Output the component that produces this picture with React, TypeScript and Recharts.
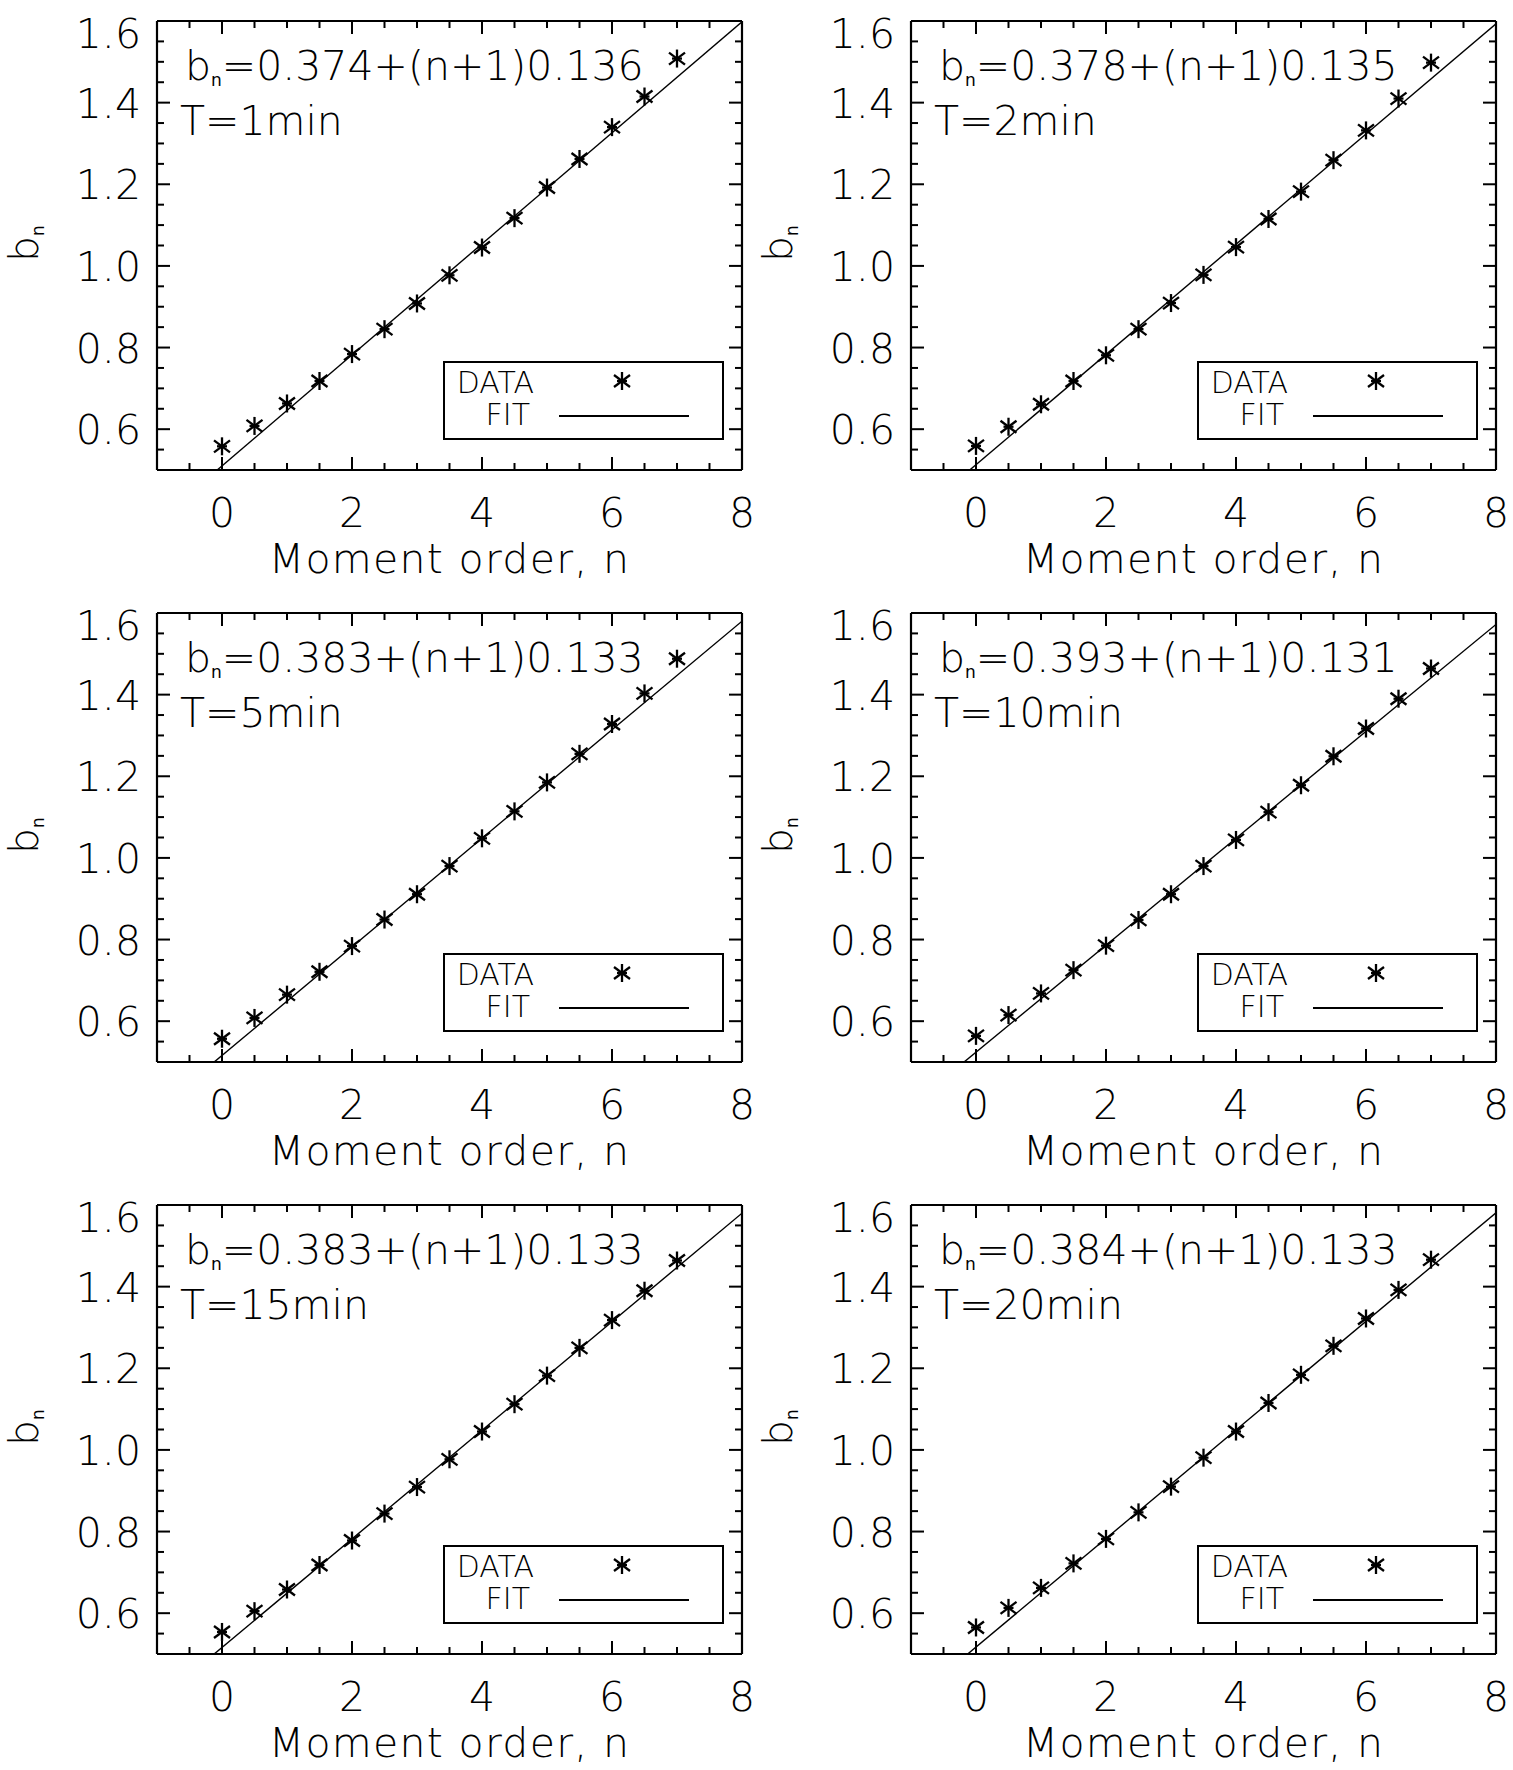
import React from "react"
import { ComposedChart, Scatter, Line, XAxis, YAxis } from "recharts"

// moment orders n at which b_n was measured
const momentOrders = [0, 0.5, 1, 1.5, 2, 2.5, 3, 3.5, 4, 4.5, 5, 5.5, 6, 6.5, 7]

const panelTitles = ["T=1min", "T=2min", "T=5min", "T=10min", "T=15min", "T=20min"]

// fitted b_n = a + (n+1) c, as printed in each panel
const fitIntercepts = [0.374, 0.378, 0.383, 0.393, 0.383, 0.384]
const fitSlopes = [0.136, 0.135, 0.133, 0.131, 0.133, 0.133]

// fit line ends at n = -1 and n = 8
const fitRange = [-1, 8]
const fitStartValues = [0.374, 0.378, 0.383, 0.393, 0.383, 0.384]
const fitEndValues = [1.598, 1.593, 1.58, 1.572, 1.58, 1.581]

const bn1min = [0.558, 0.608, 0.663, 0.718, 0.784, 0.845, 0.908, 0.977, 1.045, 1.117, 1.192, 1.262, 1.34, 1.415, 1.508]
const bn2min = [0.559, 0.606, 0.661, 0.718, 0.781, 0.845, 0.909, 0.978, 1.046, 1.115, 1.182, 1.259, 1.332, 1.41, 1.498]
const bn5min = [0.557, 0.608, 0.665, 0.721, 0.784, 0.849, 0.911, 0.98, 1.048, 1.114, 1.185, 1.255, 1.328, 1.403, 1.488]
const bn10min = [0.564, 0.615, 0.668, 0.725, 0.785, 0.848, 0.911, 0.98, 1.044, 1.112, 1.178, 1.249, 1.317, 1.39, 1.464]
const bn15min = [0.554, 0.605, 0.658, 0.718, 0.778, 0.844, 0.909, 0.977, 1.045, 1.112, 1.182, 1.25, 1.318, 1.39, 1.464]
const bn20min = [0.565, 0.613, 0.662, 0.722, 0.782, 0.847, 0.91, 0.981, 1.045, 1.115, 1.184, 1.255, 1.322, 1.392, 1.466]

const panelValues = [bn1min, bn2min, bn5min, bn10min, bn15min, bn20min]

const xDomain = [-1, 8]
const xTicks = [-1, -0.5, 0, 0.5, 1, 1.5, 2, 2.5, 3, 3.5, 4, 4.5, 5, 5.5, 6, 6.5, 7, 7.5, 8]
const xMajorTicks = [0, 2, 4, 6, 8]

const yDomain = [0.5, 1.6]
const yTicks = [0.5, 0.55, 0.6, 0.65, 0.7, 0.75, 0.8, 0.85, 0.9, 0.95, 1.0, 1.05, 1.1, 1.15, 1.2, 1.25, 1.3, 1.35, 1.4, 1.45, 1.5, 1.55, 1.6]
const yMajorTicks = [0.6, 0.8, 1.0, 1.2, 1.4, 1.6]

const FONT = "'DejaVu Sans', sans-serif"
const FONT_WEIGHT = 200
const FS = 41

const CHART_W = 757
const CHART_H = 592
// axes are 1px wide/high, so the plot frame lands at (157, 21) – (742, 470)
const MARGIN = { top: 20, left: 156, right: 14, bottom: 121 }
const FRAME_L = 157
const FRAME_T = 21
const PLOT_W = 585
const PLOT_H = 449

const MAJOR_LEN = 13
const MINOR_LEN = 7

const inList = (v: number, list: number[]) => list.some((t) => Math.abs(t - v) < 1e-6)

const textProps = { fontFamily: FONT, fontWeight: FONT_WEIGHT, fill: "#000" }
const axisLine = { stroke: "#000", strokeWidth: 2.2 }

function BottomTick(props: any) {
  const { x, y, payload } = props
  const major = inList(payload.value, xMajorTicks)
  return (
    <g>
      <line x1={x} x2={x} y1={y} y2={y - (major ? MAJOR_LEN : MINOR_LEN)} stroke="#000" strokeWidth={2} />
      {major && (
        <text x={x} y={y + 57} textAnchor="middle" fontSize={FS} {...textProps}>
          {String(payload.value)}
        </text>
      )}
    </g>
  )
}

function TopTick(props: any) {
  const { x, y, payload } = props
  const major = inList(payload.value, xMajorTicks)
  return <line x1={x} x2={x} y1={y} y2={y + (major ? MAJOR_LEN : MINOR_LEN)} stroke="#000" strokeWidth={2} />
}

function LeftTick(props: any) {
  const { x, y, payload } = props
  const major = inList(payload.value, yMajorTicks)
  const top = Math.abs(payload.value - yDomain[1]) < 1e-6
  return (
    <g>
      <line x1={x} x2={x + (major ? MAJOR_LEN : MINOR_LEN)} y1={y} y2={y} stroke="#000" strokeWidth={2} />
      {major && (
        <text x={x - 16} y={y + (top ? 27 : 15)} textAnchor="end" fontSize={FS} {...textProps}>
          {payload.value.toFixed(1)}
        </text>
      )}
    </g>
  )
}

function RightTick(props: any) {
  const { x, y, payload } = props
  const major = inList(payload.value, yMajorTicks)
  return <line x1={x} x2={x - (major ? MAJOR_LEN : MINOR_LEN)} y1={y} y2={y} stroke="#000" strokeWidth={2} />
}

function Asterisk(props: any) {
  const { cx, cy } = props
  if (cx == null || cy == null) return null
  const r = 9
  const dx = 8
  const dy = 6
  return (
    <g stroke="#000" strokeWidth={2.3}>
      <line x1={cx} x2={cx} y1={cy - r} y2={cy + r} />
      <line x1={cx - dx} x2={cx + dx} y1={cy - dy} y2={cy + dy} />
      <line x1={cx - dx} x2={cx + dx} y1={cy + dy} y2={cy - dy} />
      <line x1={cx - 5} x2={cx + 5} y1={cy} y2={cy} />
    </g>
  )
}

function Panel({ index, left, top }: { index: number; left: number; top: number }) {
  const points = momentOrders.map((n, i) => ({ n, b: panelValues[index][i] }))
  const fit = [
    { n: fitRange[0], b: fitStartValues[index] },
    { n: fitRange[1], b: fitEndValues[index] },
  ]
  const eq = `=${fitIntercepts[index].toFixed(3)}+(n+1)${fitSlopes[index].toFixed(3)}`
  const fl = FRAME_L
  const ft = FRAME_T

  return (
    <div style={{ position: "absolute", left, top, width: CHART_W, height: CHART_H }}>
      <ComposedChart width={CHART_W} height={CHART_H} margin={MARGIN}>
        <XAxis
          xAxisId="bottom"
          dataKey="n"
          type="number"
          domain={xDomain}
          ticks={xTicks}
          interval={0}
          allowDataOverflow
          height={1}
          tickSize={0}
          tickMargin={0}
          tickLine={false}
          axisLine={axisLine}
          tick={<BottomTick />}
        />
        <XAxis
          xAxisId="top"
          orientation="top"
          dataKey="n"
          type="number"
          domain={xDomain}
          ticks={xTicks}
          interval={0}
          allowDataOverflow
          height={1}
          tickSize={0}
          tickMargin={0}
          tickLine={false}
          axisLine={axisLine}
          tick={<TopTick />}
        />
        <YAxis
          yAxisId="left"
          type="number"
          domain={yDomain}
          ticks={yTicks}
          interval={0}
          allowDataOverflow
          width={1}
          tickSize={0}
          tickMargin={0}
          tickLine={false}
          axisLine={axisLine}
          tick={<LeftTick />}
        />
        <YAxis
          yAxisId="right"
          orientation="right"
          type="number"
          domain={yDomain}
          ticks={yTicks}
          interval={0}
          allowDataOverflow
          width={1}
          tickSize={0}
          tickMargin={0}
          tickLine={false}
          axisLine={axisLine}
          tick={<RightTick />}
        />
        <Line
          xAxisId="bottom"
          yAxisId="left"
          data={fit}
          dataKey="b"
          type="linear"
          stroke="#000"
          strokeWidth={1.4}
          dot={false}
          activeDot={false}
          isAnimationActive={false}
        />
        <Scatter
          xAxisId="bottom"
          yAxisId="left"
          data={points}
          dataKey="b"
          shape={<Asterisk />}
          isAnimationActive={false}
        />
      </ComposedChart>

      <svg width={CHART_W} height={CHART_H} style={{ position: "absolute", left: 0, top: 0, pointerEvents: "none" }}>
        <text x={fl + 28} y={ft + 59} fontSize={FS} {...textProps}>
          b<tspan fontSize={17} fontWeight={400} dy={6}>n</tspan>
          <tspan fontSize={FS} dy={-6}>{eq}</tspan>
        </text>
        <text x={fl + 23} y={ft + 114} fontSize={FS} {...textProps}>
          {panelTitles[index]}
        </text>

        <g>
          <rect x={fl + 287} y={ft + 341} width={279} height={77} fill="#fff" stroke="#000" strokeWidth={2} />
          <text x={fl + 377} y={ft + 372} textAnchor="end" fontSize={30} {...textProps}>DATA</text>
          <text x={fl + 373} y={ft + 404} textAnchor="end" fontSize={30} {...textProps}>FIT</text>
          <Asterisk cx={fl + 465} cy={ft + 360} />
          <line x1={fl + 402} x2={fl + 532} y1={ft + 395} y2={ft + 395} stroke="#000" strokeWidth={2} />
        </g>

        <text
          x={fl + PLOT_W / 2}
          y={ft + PLOT_H + 103}
          textAnchor="middle"
          fontSize={FS}
          letterSpacing={1.3}
          {...textProps}
        >
          Moment order, n
        </text>
        <text transform={`translate(${fl - 119}, ${ft + 241}) rotate(-90)`} fontSize={FS} {...textProps}>
          b<tspan fontSize={17} fontWeight={400} dy={6}>n</tspan>
        </text>
      </svg>
    </div>
  )
}

const panelLefts = [0, 754]
const panelTops = [0, 592, 1184]

export default function App() {
  return (
    <div style={{ position: "absolute", left: 0, top: 0, width: 1513, height: 1770, background: "#fff" }}>
      {panelTitles.map((_, i) => (
        <Panel key={i} index={i} left={panelLefts[i % 2]} top={panelTops[Math.floor(i / 2)]} />
      ))}
    </div>
  )
}
